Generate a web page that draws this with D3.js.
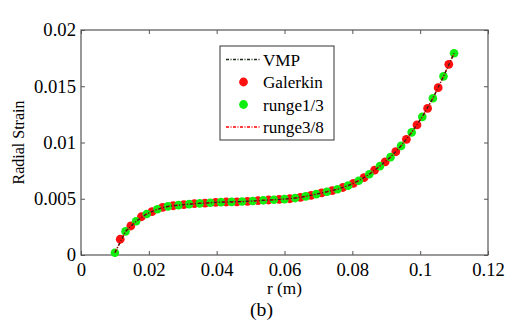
<!DOCTYPE html>
<html>
<head>
<meta charset="utf-8">
<script src="https://cdn.jsdelivr.net/npm/d3@7"></script>
<style>
  body { margin: 0; background: #fff; }
  svg text { font-family: "Liberation Serif", "Times New Roman", serif; fill: #000; }
</style>
</head>
<body>
<svg></svg>
<script>
// grid used by VMP, runge1/3 and runge3/8
let rGrid = [0.01, 0.013125, 0.01625, 0.019375, 0.0225, 0.025625, 0.02875, 0.031875, 0.035, 0.038125,
  0.04125, 0.044375, 0.0475, 0.050625, 0.05375, 0.056875, 0.06, 0.063125, 0.06625, 0.069375,
  0.0725, 0.075625, 0.07875, 0.081875, 0.085, 0.088125, 0.09125, 0.094375, 0.0975, 0.100625,
  0.10375, 0.106875, 0.11]

let vmpStrain = [0.0002, 0.0021, 0.0030, 0.00365, 0.00407, 0.00432, 0.00443, 0.00452, 0.00459, 0.00465,
  0.0047, 0.00472, 0.00475, 0.0048, 0.00486, 0.00491, 0.00497, 0.00506, 0.00521, 0.00541,
  0.00562, 0.00585, 0.00617, 0.0066, 0.00718, 0.0079, 0.0087, 0.0097, 0.0109, 0.01228,
  0.01393, 0.01588, 0.01793]

let runge13Strain = [0.0002, 0.0021, 0.0030, 0.00365, 0.00407, 0.00432, 0.00443, 0.00452, 0.00459, 0.00465,
  0.0047, 0.00472, 0.00475, 0.0048, 0.00486, 0.00491, 0.00497, 0.00506, 0.00521, 0.00541,
  0.00562, 0.00585, 0.00617, 0.0066, 0.00718, 0.0079, 0.0087, 0.0097, 0.0109, 0.01228,
  0.01393, 0.01588, 0.01793]

let runge38Strain = [0.0002, 0.0021, 0.0030, 0.00365, 0.00407, 0.00432, 0.00443, 0.00452, 0.00459, 0.00465,
  0.0047, 0.00472, 0.00475, 0.0048, 0.00486, 0.00491, 0.00497, 0.00506, 0.00521, 0.00541,
  0.00562, 0.00585, 0.00617, 0.0066, 0.00718, 0.0079, 0.0087, 0.0097, 0.0109, 0.01228,
  0.01393, 0.01588, 0.01793]

// Galerkin sits between the grid nodes
let galerkinR = [0.0115625, 0.0146875, 0.0178125, 0.0209375, 0.0240625, 0.0271875, 0.0303125, 0.0334375,
  0.0365625, 0.0396875, 0.0428125, 0.0459375, 0.0490625, 0.0521875, 0.0553125, 0.0584375,
  0.0615625, 0.0646875, 0.0678125, 0.0709375, 0.0740625, 0.0771875, 0.0803125, 0.0834375,
  0.0865625, 0.0896875, 0.0928125, 0.0959375, 0.0990625, 0.1021875, 0.1053125, 0.1084375]

let galerkinStrain = [0.0014, 0.00258, 0.0034, 0.00385, 0.00424, 0.00438, 0.00447, 0.00456,
  0.00462, 0.00468, 0.00471, 0.00473, 0.00477, 0.00483, 0.00489, 0.00494,
  0.005, 0.00513, 0.0053, 0.00552, 0.00572, 0.006, 0.00637, 0.00687,
  0.00755, 0.00828, 0.00918, 0.01028, 0.01156, 0.01304, 0.01487, 0.01695]

let xTicks = [0, 0.02, 0.04, 0.06, 0.08, 0.1, 0.12]
let yTicks = [0, 0.005, 0.01, 0.015, 0.02]
let legendNames = ['VMP', 'Galerkin', 'runge1/3', 'runge3/8']

const w = 507
const h = 322
const padL = 81, padR = 488, padT = 30, padB = 255
const serif = '"Liberation Serif", "Times New Roman", serif'

let svg = d3.select('svg').attr('width', w).attr('height', h)

let xScale = d3.scaleLinear().domain([0, 0.12]).range([padL, padR])
let yScale = d3.scaleLinear().domain([0, 0.02]).range([padB, padT])

let fmt = d => d === 0 ? '0' : String(+d.toFixed(4))
let axisColor = '#555'

// font size that makes `str` about `target` px wide
let fitSize = (str, target) => {
  let t = svg.append('text').style('font-size', '20px').text(str)
  let len = t.node().getComputedTextLength()
  t.remove()
  return 20 * target / len
}

let tickSize = fitSize('0.015', 42)
let legendSize = fitSize('Galerkin', 60)

let styleAxis = (g) => {
  g.attr('font-family', serif).attr('font-size', tickSize)
  g.select('.domain').remove()
  g.selectAll('.tick line').attr('stroke', axisColor)
  g.selectAll('text').attr('fill', '#000').style('font-size', tickSize + 'px')
}

svg.append('g')
  .attr('transform', 'translate(0,' + padB + ')')
  .call(d3.axisBottom(xScale).tickValues(xTicks).tickFormat(fmt).tickSizeInner(-4).tickSizeOuter(0).tickPadding(8))
  .call(styleAxis)

svg.append('g')
  .attr('transform', 'translate(0,' + padT + ')')
  .call(d3.axisTop(xScale).tickValues(xTicks).tickFormat('').tickSizeInner(-4).tickSizeOuter(0))
  .call(styleAxis)

svg.append('g')
  .attr('transform', 'translate(' + padL + ',0)')
  .call(d3.axisLeft(yScale).tickValues(yTicks).tickFormat(fmt).tickSizeInner(-4).tickSizeOuter(0).tickPadding(5))
  .call(styleAxis)

svg.append('g')
  .attr('transform', 'translate(' + padR + ',0)')
  .call(d3.axisRight(yScale).tickValues(yTicks).tickFormat('').tickSizeInner(-4).tickSizeOuter(0))
  .call(styleAxis)

svg.append('rect')
  .attr('x', padL).attr('y', padT)
  .attr('width', padR - padL).attr('height', padB - padT)
  .attr('fill', 'none').attr('stroke', axisColor).attr('stroke-width', 1.2)

// markers: Galerkin first, runge1/3 drawn over it
svg.append('g').selectAll('circle')
  .data(galerkinR.map((r, i) => [r, galerkinStrain[i]]))
  .enter().append('circle')
  .attr('cx', d => xScale(d[0])).attr('cy', d => yScale(d[1]))
  .attr('r', 4.4).attr('fill', '#ff1010')

svg.append('g').selectAll('circle')
  .data(rGrid.map((r, i) => [r, runge13Strain[i]]))
  .enter().append('circle')
  .attr('cx', d => xScale(d[0])).attr('cy', d => yScale(d[1]))
  .attr('r', 4.3).attr('fill', '#10ee10')

let line = d3.line().x(d => xScale(d[0])).y(d => yScale(d[1]))

svg.append('path')
  .datum(rGrid.map((r, i) => [r, runge38Strain[i]]))
  .attr('d', line).attr('fill', 'none')
  .attr('stroke', '#ff0000').attr('stroke-width', 1.5)
  .attr('stroke-dasharray', '4,1.5,1,1.5')

svg.append('path')
  .datum(rGrid.map((r, i) => [r, vmpStrain[i]]))
  .attr('d', line).attr('fill', 'none')
  .attr('stroke', '#1c2a1c').attr('stroke-width', 1.2)
  .attr('stroke-dasharray', '3,2,1,2')

// legend
let lg = svg.append('g')
lg.append('rect')
  .attr('x', 220).attr('y', 46).attr('width', 114).attr('height', 94)
  .attr('fill', '#fff').attr('stroke', '#333').attr('stroke-width', 1)

let rowY = [59.5, 82, 104.5, 127]
legendNames.forEach((name, i) => {
  let y = rowY[i]
  if (i === 0 || i === 3) {
    lg.append('line')
      .attr('x1', 226).attr('x2', 261).attr('y1', y).attr('y2', y)
      .attr('stroke', i === 0 ? '#1c2a1c' : '#ff0000')
      .attr('stroke-width', 1.3)
      .attr('stroke-dasharray', '3,1.5,1,1.5')
  } else {
    lg.append('circle').attr('cx', 243.5).attr('cy', y).attr('r', 4.4)
      .attr('fill', i === 1 ? '#ff1010' : '#10ee10')
  }
  lg.append('text')
    .attr('x', 263).attr('y', y).attr('dy', '0.35em')
    .style('font-size', legendSize + 'px')
    .text(name)
})

svg.append('text')
  .attr('transform', 'translate(24,' + ((padT + padB) / 2) + ') rotate(-90)')
  .attr('text-anchor', 'middle')
  .style('font-size', fitSize('Radial Strain', 84) + 'px')
  .text('Radial Strain')

svg.append('text')
  .attr('x', (padL + padR) / 2).attr('y', 294)
  .attr('text-anchor', 'middle')
  .style('font-size', fitSize('r (m)', 35) + 'px')
  .text('r (m)')

svg.append('text')
  .attr('x', 261.5).attr('y', 316)
  .attr('text-anchor', 'middle')
  .style('font-size', fitSize('(b)', 23) + 'px')
  .text('(b)')
</script>
</body>
</html>
